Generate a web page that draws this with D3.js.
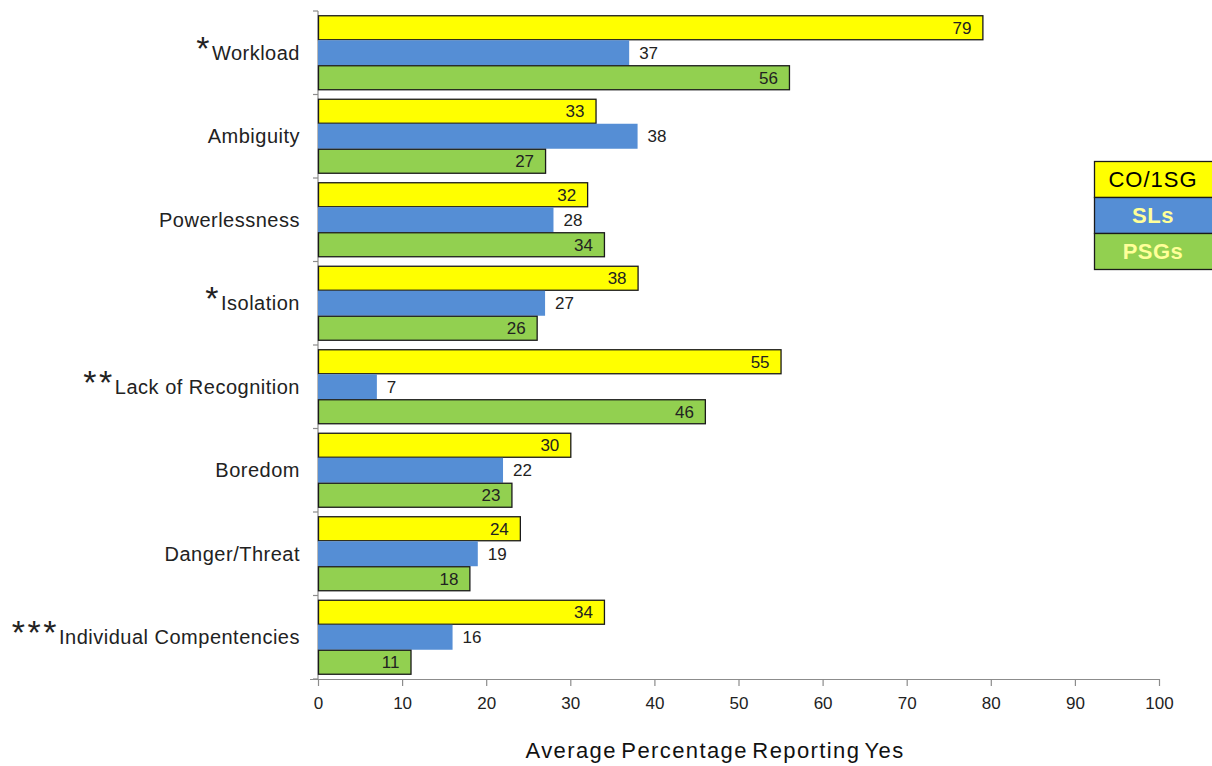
<!DOCTYPE html>
<html>
<head>
<meta charset="utf-8">
<script src="https://cdn.jsdelivr.net/npm/d3@7"></script>
<style>
  html, body { margin: 0; padding: 0; background: #fff; }
  svg { display: block; font-family: "Liberation Sans", Arial, sans-serif; }
</style>
</head>
<body>
<svg id="chart" width="1212" height="766"></svg>
<script>
// Stressor categories, top to bottom, with significance markers
const categories = ["Workload", "Ambiguity", "Powerlessness", "Isolation",
  "Lack of Recognition", "Boredom", "Danger/Threat", "Individual Compentencies"];
const markers = ["*", "", "", "*", "**", "", "", "***"];

// Average percentage reporting "yes" per group
const seriesNames = ["CO/1SG", "SLs", "PSGs"];
const co1sgValues = [79, 33, 32, 38, 55, 30, 24, 34];
const slValues = [37, 38, 28, 27, 7, 22, 19, 16];
const psgValues = [56, 27, 34, 26, 46, 23, 18, 11];

const xTicks = [0, 10, 20, 30, 40, 50, 60, 70, 80, 90, 100];
const xTitle = "Average Percentage Reporting Yes";

const colors = { "CO/1SG": "#ffff00", "SLs": "#558ed5", "PSGs": "#92d050" };
const outlined = { "CO/1SG": true, "SLs": false, "PSGs": true };
const legendText = { "CO/1SG": "#000000", "SLs": "#ffff99", "PSGs": "#ffff99" };

const svg = d3.select("#chart");
const x = d3.scaleLinear().domain([0, 100]).range([318, 1159]);
const y = d3.scaleBand().domain(categories).range([11, 679]).padding(0);
const inner = d3.scaleBand().domain(seriesNames)
  .range([0, y.bandwidth()]).paddingInner(0).paddingOuter(0.17);

const valuesBySeries = { "CO/1SG": co1sgValues, "SLs": slValues, "PSGs": psgValues };

// Category axis: vertical line with ticks at band boundaries
const axisColor = "#8c8c8c";
svg.append("line").attr("x1", x(0)).attr("x2", x(0))
  .attr("y1", y.range()[0]).attr("y2", y.range()[1])
  .attr("stroke", axisColor).attr("stroke-width", 1.2);
const boundaries = categories.map(c => y(c)).concat([y.range()[1]]);
svg.selectAll(".ytick").data(boundaries).join("line")
  .attr("x1", x(0) - 5).attr("x2", x(0))
  .attr("y1", d => d).attr("y2", d => d)
  .attr("stroke", axisColor).attr("stroke-width", 1.2);

// Value axis along the bottom
const xAxis = d3.axisBottom(x).tickValues(xTicks).tickSize(7).tickSizeOuter(0).tickPadding(11);
const gx = svg.append("g").attr("transform", `translate(0,${y.range()[1]})`).call(xAxis);
gx.select(".domain").attr("stroke", axisColor).attr("stroke-width", 1.2)
  .attr("d", `M${x(0) - 8},0.5H${x(100)}`);
gx.selectAll(".tick line").attr("stroke", axisColor).attr("stroke-width", 1.2);
gx.selectAll(".tick text").attr("font-size", 17).attr("fill", "#222")
  .attr("font-family", "Liberation Sans, Arial, sans-serif");

// Bars
categories.forEach((cat, i) => {
  const g = svg.append("g").attr("transform", `translate(0,${y(cat)})`);
  seriesNames.forEach(s => {
    const v = valuesBySeries[s][i];
    const by = inner(s), bh = inner.bandwidth();
    g.append("rect")
      .attr("x", x(0) + (outlined[s] ? 0.5 : 0))
      .attr("y", by + (outlined[s] ? 0.5 : 0))
      .attr("width", x(v) - x(0))
      .attr("height", bh - (outlined[s] ? 1 : 0))
      .attr("fill", colors[s])
      .attr("stroke", outlined[s] ? "#1a1a1a" : "none")
      .attr("stroke-width", 1.3);
    const inside = s !== "SLs";
    g.append("text")
      .attr("x", inside ? x(v) - 11 : x(v) + 10)
      .attr("y", by + bh / 2)
      .attr("dy", "0.36em")
      .attr("text-anchor", inside ? "end" : "start")
      .attr("font-size", 17).attr("fill", "#222")
      .text(v);
  });

  // Category label with its significance marker
  const t = svg.append("text")
    .attr("x", 300).attr("y", y(cat) + y.bandwidth() / 2 + 7)
    .attr("text-anchor", "end").attr("fill", "#222");
  if (markers[i]) {
    t.append("tspan").attr("font-size", 34).attr("letter-spacing", 2.5).text(markers[i]);
  }
  t.append("tspan").attr("font-size", 20).attr("letter-spacing", 0.5).text(cat);
});

// Axis title
svg.append("text")
  .attr("x", 715).attr("y", 758)
  .attr("text-anchor", "middle").attr("font-size", 22).attr("fill", "#111")
  .attr("letter-spacing", 1.4).attr("word-spacing", -3)
  .text(xTitle);

// Legend: stacked colour boxes with the group names inside
const legendX = 1094, legendY = 161, rowH = 36, legendW = 130;
seriesNames.forEach((s, i) => {
  svg.append("rect")
    .attr("x", legendX + 0.5).attr("y", legendY + i * rowH + 0.5)
    .attr("width", legendW).attr("height", rowH)
    .attr("fill", colors[s]).attr("stroke", "#1a1a1a").attr("stroke-width", 1.3);
  svg.append("text")
    .attr("x", 1153).attr("y", legendY + i * rowH + rowH / 2)
    .attr("dy", "0.36em").attr("text-anchor", "middle")
    .attr("font-size", 22).attr("font-weight", s === "CO/1SG" ? "normal" : "bold")
    .attr("letter-spacing", s === "CO/1SG" ? 1 : 0.5)
    .attr("fill", legendText[s])
    .text(s);
});
</script>
</body>
</html>
